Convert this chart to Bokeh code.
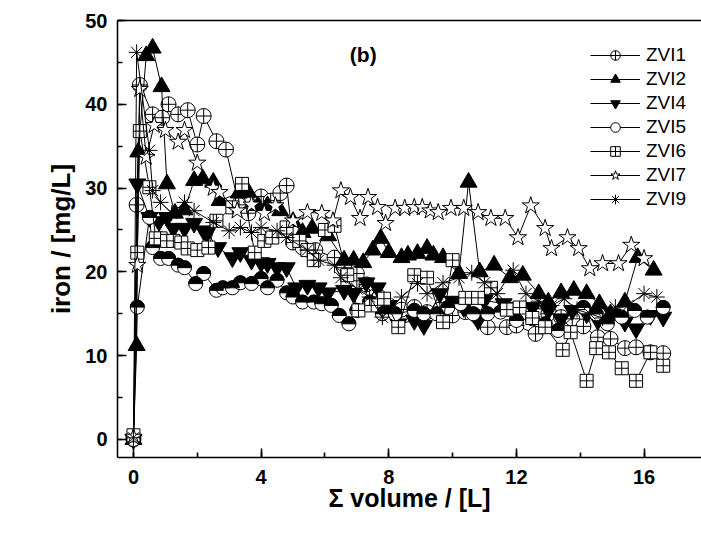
import math
from bokeh.plotting import figure
from bokeh.models import (Range1d, SingleIntervalTicker, FixedTicker, LinearAxis, Legend, LegendItem, Label, Title)
from bokeh.embed import file_html
from bokeh.resources import INLINE

# ---------------- data ----------------
zvi1_x = [0, 0.1, 0.2, 0.6, 0.9, 1.1, 1.4, 1.7, 2.0, 2.2, 2.6, 2.9, 3.3, 3.6, 4.0, 4.3, 4.6, 4.8, 5.0, 5.3,
          5.7, 6.3, 6.6, 7.0, 7.3, 7.7, 8.0, 8.4, 8.8, 9.2, 9.6, 10.0, 10.4, 10.8, 11.1, 11.7, 12.0, 12.6, 13.0,
          13.4, 13.75, 14.1, 14.55, 14.95, 15.4, 15.75, 16.2, 16.6]
zvi1_y = [0, 28.0, 42.3, 38.8, 38.4, 40.0, 38.8, 39.3, 35.2, 38.6, 35.6, 34.6, 28.0, 27.0, 29.0, 28.5, 29.4, 30.3, 23.5, 22.9,
          22.6, 21.7, 20.5, 19.8, 18.5, 17.0, 16.0, 15.5, 15.8, 15.2, 15.5, 14.8, 15.2, 14.6, 13.4, 13.4, 13.6, 12.6, 15.0,
          14.6, 14.4, 13.5, 12.2, 12.0, 10.9, 11.0, 10.4, 10.3]

zvi2_x = [0, 0.1, 0.15, 0.4, 0.6, 0.88, 1.05, 1.3, 1.6, 1.9, 2.17, 2.5, 2.7, 3.3, 3.6, 3.9, 4.2, 4.6, 5.0, 5.3,
          5.6, 6.1, 6.6, 6.9, 7.2, 7.5, 7.75, 8.0, 8.4, 8.6, 8.9, 9.2, 9.4, 9.7, 10.2, 10.5, 10.85, 11.3, 11.8,
          12.2, 12.7, 13.0, 13.4, 13.8, 14.2, 14.6, 14.95, 15.4, 15.8, 16.3]
zvi2_y = [0, 11.2, 34.3, 45.8, 46.7, 42.1, 30.5, 27.0, 27.4, 30.9, 31.1, 30.7, 28.5, 29.4, 29.5, 27.9, 27.9, 27.3, 26.0, 24.7,
          25.2, 24.3, 21.4, 21.4, 21.1, 22.6, 24.0, 22.3, 21.7, 22.0, 22.2, 22.8, 22.0, 21.7, 19.8, 30.7, 20.0, 20.8, 19.3,
          19.6, 17.4, 16.4, 17.5, 17.8, 17.4, 16.2, 15.0, 16.4, 21.7, 20.2]

zvi4_x = [0, 0.12, 0.5, 0.8, 1.05, 1.25, 1.6, 1.9, 2.2, 2.3, 2.65, 3.1, 3.35, 3.7, 4.0, 4.2, 4.5, 4.8, 5.1, 5.45,
          5.8, 6.1, 6.6, 6.9, 7.3, 7.65, 8.0, 8.3, 8.8, 9.1, 9.6, 10.0, 10.35, 10.8, 11.0, 11.6, 12.0, 12.5, 13.0,
          13.4, 13.75, 14.2, 14.55, 15.0, 15.4, 15.75, 16.2, 16.6]
zvi4_y = [0, 30.5, 26.5, 26.0, 26.5, 25.2, 25.2, 25.8, 24.9, 24.6, 22.9, 21.7, 22.3, 21.4, 21.1, 21.0, 20.5, 20.5, 18.1, 18.4,
          18.1, 17.5, 17.8, 17.4, 18.7, 18.1, 16.0, 13.8, 14.2, 13.6, 17.4, 16.5, 15.75, 14.2, 16.6, 16.2, 15.75, 15.75, 15.4,
          14.4, 15.4, 15.0, 14.2, 15.0, 14.0, 13.2, 14.8, 14.6]

zvi5_x = [0, 0.12, 0.5, 0.6, 0.85, 1.1, 1.4, 1.6, 1.95, 2.2, 2.6, 2.8, 3.1, 3.35, 3.7, 4.0, 4.2, 4.5, 4.8, 5.0,
          5.3, 5.65, 5.9, 6.2, 6.45, 6.75, 7.0, 7.4, 7.8, 8.2, 8.8, 9.1, 9.5, 9.85, 10.25, 10.65, 11.1, 11.5, 12.0,
          12.5, 12.9, 13.3, 14.1, 14.5, 14.85, 15.3, 15.7, 16.1, 16.6]
zvi5_y = [0, 15.8, 26.5, 22.9, 21.6, 21.6, 20.8, 20.5, 18.6, 19.8, 17.8, 18.1, 18.1, 18.7, 18.6, 19.2, 18.1, 19.0, 17.5, 17.0,
          16.4, 16.4, 16.2, 16.0, 14.8, 13.8, 15.4, 16.4, 15.0, 15.0, 15.4, 15.0, 15.0, 15.75, 16.2, 15.0, 15.0, 15.2, 14.2,
          14.4, 13.8, 13.0, 15.75, 15.0, 13.8, 14.6, 15.4, 14.6, 15.75]

zvi6_x = [0, 0.12, 0.2, 0.5, 0.7, 0.85, 1.05, 1.25, 1.5, 1.7, 2.0, 2.35, 2.6, 3.1, 3.4, 3.8, 4.1, 4.35, 4.8, 5.2,
          5.45, 5.65, 6.0, 6.3, 6.7, 7.05, 7.45, 7.85, 8.3, 8.8, 9.2, 9.7, 10.0, 10.4, 10.8, 11.2, 11.7, 12.1, 12.5,
          12.9, 13.45, 13.7, 14.2, 14.5, 14.9, 15.3, 15.75, 16.2, 16.6]
zvi6_y = [0.5, 22.3, 36.8, 30.1, 24.0, 24.0, 23.7, 23.7, 23.5, 22.8, 22.6, 22.9, 26.1, 27.7, 30.5, 22.3, 23.7, 24.1, 25.3, 23.7,
          22.6, 21.4, 25.0, 25.5, 19.6, 15.4, 16.0, 16.8, 13.4, 19.6, 19.3, 14.0, 21.4, 16.9, 16.9, 18.1, 15.5, 15.75, 14.5,
          13.4, 10.7, 12.8, 7.0, 10.9, 10.4, 8.5, 7.0, 10.4, 8.8]

zvi7_x = [0, 0.12, 0.2, 0.4, 0.65, 1.0, 1.4, 1.6, 2.0, 2.5, 2.7, 3.25, 3.7, 4.1, 4.45, 5.0, 5.45, 5.9, 6.25, 6.5,
          6.8, 7.1, 7.35, 7.65, 7.9, 8.2, 8.5, 8.8, 9.05, 9.3, 9.55, 9.95, 10.35, 10.8, 11.2, 11.65, 12.05, 12.45, 12.9,
          13.1, 13.6, 13.95, 14.3, 14.7, 15.2, 15.6, 16.0]
zvi7_y = [0.3, 20.8, 41.8, 33.7, 37.5, 36.9, 35.5, 36.9, 33.0, 30.0, 29.5, 27.3, 28.0, 27.0, 27.9, 26.1, 27.1, 27.0, 26.1, 29.7,
          28.9, 26.4, 28.9, 27.7, 25.8, 27.6, 27.6, 27.7, 27.7, 27.3, 27.1, 27.6, 27.6, 27.1, 26.4, 26.4, 24.1, 27.9, 25.2,
          22.8, 24.1, 22.8, 20.4, 21.0, 21.0, 23.2, 21.6]

zvi9_x = [0, 0.1, 0.5, 0.6, 0.85, 1.2, 1.6, 1.9, 2.5, 3.0, 3.35, 3.7, 4.0, 4.5, 4.8, 5.45, 5.8, 6.3, 6.5, 7.0,
          7.4, 7.8, 8.4, 8.9, 9.2, 9.7, 10.2, 10.6, 11.0, 11.4, 11.9, 12.3, 12.7, 13.1, 13.5, 13.9, 14.3, 14.7, 15.1,
          15.5, 16.0, 16.4]
zvi9_y = [0.2, 46.2, 34.5, 29.7, 28.3, 27.0, 28.3, 27.3, 25.9, 24.9, 25.3, 24.7, 25.3, 24.9, 24.1, 22.6, 21.4, 20.8, 19.3, 18.0,
          17.0, 14.6, 17.0, 18.6, 17.4, 18.7, 19.3, 19.9, 18.7, 17.4, 20.2, 17.4, 16.5, 16.0, 16.8, 15.5, 15.0, 14.5, 15.8,
          16.0, 17.4, 17.0]

x_ticks_interval = 4
y_ticks_interval = 10
x_label = "\u03a3 volume / [L]"
y_label = "iron / [mg/L]"
panel_tag = "(b)"

FONT = "Liberation Sans"

p = figure(width=701, height=540, output_backend="svg", toolbar_location=None,
           x_range=Range1d(-0.5, 17.8), y_range=Range1d(-2.15, 50),
           x_axis_type=None, y_axis_type=None,
           min_border_left=117, min_border_top=20, min_border_bottom=83, min_border_right=0)
p.grid.visible = False
p.outline_line_color = None
p.background_fill_color = "white"
p.border_fill_color = "white"


def style_axis(ax, interval):
    ax.ticker = SingleIntervalTicker(interval=interval, num_minor_ticks=2)
    ax.axis_line_width = 1.6
    ax.major_tick_in = 9
    ax.major_tick_out = 0
    ax.minor_tick_in = 5
    ax.minor_tick_out = 0
    ax.major_tick_line_width = 1.6
    ax.minor_tick_line_width = 1.6
    ax.major_label_text_font = FONT
    ax.major_label_text_font_style = "bold"
    ax.major_label_text_font_size = "20px"
    ax.major_label_text_color = "black"
    ax.axis_label_text_font = FONT
    ax.axis_label_text_font_style = "bold"
    ax.axis_label_text_font_size = "25px"
    ax.axis_label_text_color = "black"


xax = LinearAxis(axis_label=x_label)
style_axis(xax, x_ticks_interval)
xax.major_label_standoff = 12
xax.axis_label_standoff = -3
p.add_layout(xax, "below")

yax = LinearAxis()
style_axis(yax, y_ticks_interval)
yax.major_label_standoff = 10
p.add_layout(yax, "left")

top_ax = LinearAxis(ticker=FixedTicker(ticks=[]), axis_line_width=1.6)
p.add_layout(top_ax, "above")

# y axis title as a side title so it can be nudged along the axis
p.add_layout(Title(text=y_label, align="center", offset=-19, standoff=14,
                   text_font=FONT, text_font_style="bold", text_font_size="26px", text_color="black"), "left")

series = [
    ("ZVI1", zvi1_x, zvi1_y, "circle_cross", 15, "white"),
    ("ZVI2", zvi2_x, zvi2_y, "triangle", 17, "black"),
    ("ZVI4", zvi4_x, zvi4_y, "inverted_triangle", 17, "black"),
    ("ZVI5", zvi5_x, zvi5_y, "half", 14, "white"),
    ("ZVI6", zvi6_x, zvi6_y, "square_cross", 13, "white"),
    ("ZVI7", zvi7_x, zvi7_y, "star", 18, "white"),
    ("ZVI9", zvi9_x, zvi9_y, "asterisk", 16, "white"),
]

items = []
for name, xs, ys, mk, sz, fill in series:
    lr = p.line(xs, ys, line_color="black", line_width=1)
    if mk == "half":
        mr = p.scatter(xs, ys, marker="circle", size=sz, fill_color="white", line_color="black", line_width=1)
        p.wedge(xs, ys, radius=sz / 2, radius_units="screen", start_angle=0, end_angle=math.pi,
                fill_color="black", line_color="black", line_width=1)
        items.append(LegendItem(label=name, renderers=[lr, mr]))
    else:
        mr = p.scatter(xs, ys, marker=mk, size=sz, fill_color=fill, line_color="black", line_width=1)
        items.append(LegendItem(label=name, renderers=[lr, mr]))

legend = Legend(items=items, location=(473, 246), padding=0, margin=0, spacing=0,
                glyph_width=50, glyph_height=24, label_height=20, label_standoff=6,
                label_text_font=FONT, label_text_font_size="19px", label_text_color="black",
                border_line_color=None, background_fill_alpha=0)
p.add_layout(legend, "center")

p.add_layout(Label(x=7.2, y=46, text=panel_tag, text_font=FONT, text_font_style="bold", text_color="black",
                   text_font_size="21px", text_align="center", text_baseline="middle"))

open("out.html", "w").write(file_html(p, INLINE))
